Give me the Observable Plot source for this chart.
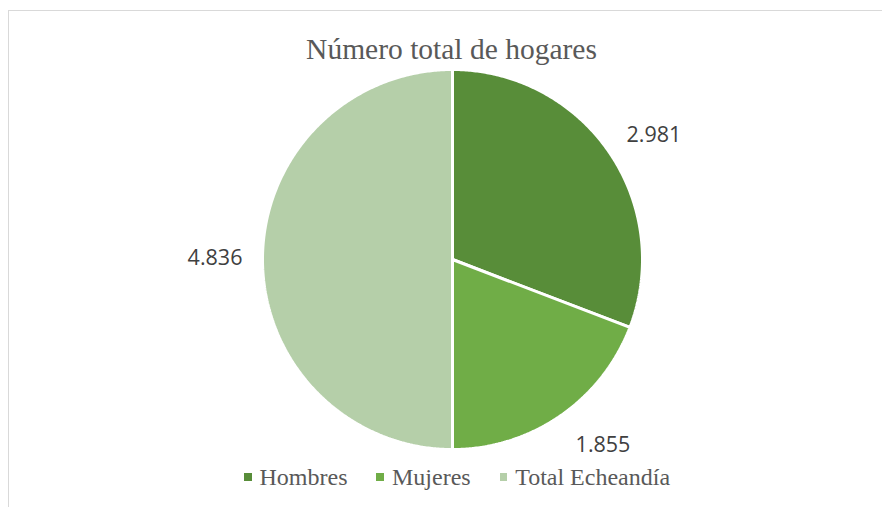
<!DOCTYPE html>
<html>
<head>
<meta charset="utf-8">
<script src="https://cdn.jsdelivr.net/npm/d3@7"></script>
<script src="https://cdn.jsdelivr.net/npm/@observablehq/plot@0.6"></script>
<style>
  html, body { margin: 0; padding: 0; background: #fff; }
  #wrap { position: relative; width: 882px; height: 507px; overflow: hidden; background: #fff; }
  #frame { position: absolute; left: 8px; top: 10px; width: 900px; height: 600px; border: 1.5px solid #d9d9d9; box-sizing: border-box; }
  #chart { position: absolute; left: 0; top: 0; }
  #title { position: absolute; left: 0; width: 903px; top: 35px; text-align: center; font-family: "Liberation Serif", "Times New Roman", serif; font-size: 29.5px; line-height: 29.5px; color: #595959; }
  #legend { position: absolute; left: 244px; top: 465px; display: flex; align-items: center; font-family: "Liberation Serif", "Times New Roman", serif; font-size: 24px; line-height: 24px; color: #595959; white-space: nowrap; }
  #legend .item { display: flex; align-items: center; margin-right: 29px; }
  #legend .sw { width: 7.5px; height: 7.5px; margin-right: 8px; }
</style>
</head>
<body>
<div id="wrap">
  <div id="frame"></div>
  <div id="chart"></div>
  <div id="title">Número total de hogares</div>
  <div id="legend"></div>
</div>
<script>
const categories = ["Hombres", "Mujeres", "Total Echeandía"];
const values = [2981, 1855, 4836];
const labels = ["2.981", "1.855", "4.836"];
const colors = ["#588d39", "#70ad47", "#b5cfa9"];

const pie = d3.pie().sort(null).value(d => d)(values);

// polygon points for each slice (angle 0 at top, clockwise)
const pts = [];
pie.forEach((s, i) => {
  const cat = categories[i];
  pts.push({cat, x: 0, y: 0});
  const n = Math.max(2, Math.ceil((s.endAngle - s.startAngle) / (Math.PI / 360)));
  for (let k = 0; k <= n; k++) {
    const a = s.startAngle + (s.endAngle - s.startAngle) * k / n;
    pts.push({cat, x: Math.sin(a), y: Math.cos(a)});
  }
  pts.push({cat, x: 0, y: 0});
});

// label placement (best-fit style): radius factor and small angular nudge in degrees
const labelR = 1.25;
const labelNudge = [2.5, -4.8, 0.7];
const labelData = pie.map((s, i) => {
  const a = (s.startAngle + s.endAngle) / 2 + labelNudge[i] * Math.PI / 180;
  return {text: labels[i], x: labelR * Math.sin(a), y: labelR * Math.cos(a)};
});

const chart = Plot.plot({
  width: 882,
  height: 507,
  margin: 0,
  x: {domain: [-1, 1], range: [262, 642], axis: null},
  y: {domain: [-1, 1], range: [449, 69], axis: null},
  color: {domain: categories, range: colors},
  style: {background: "transparent", overflow: "visible"},
  marks: [
    Plot.line(pts, {x: "x", y: "y", z: "cat", fill: "cat", stroke: "white", strokeWidth: 3, strokeLinejoin: "miter", curve: "linear"}),
    Plot.text(labelData, {x: "x", y: "y", text: "text", dy: 2, fontFamily: "'Open Sans', sans-serif", fontSize: 21.5, fill: "#404040"})
  ]
});
document.getElementById("chart").appendChild(chart);

const legend = document.getElementById("legend");
categories.forEach((c, i) => {
  const it = document.createElement("div");
  it.className = "item";
  const sw = document.createElement("span");
  sw.className = "sw";
  sw.style.background = colors[i];
  const tx = document.createElement("span");
  tx.textContent = c;
  it.appendChild(sw);
  it.appendChild(tx);
  legend.appendChild(it);
});
</script>
</body>
</html>
